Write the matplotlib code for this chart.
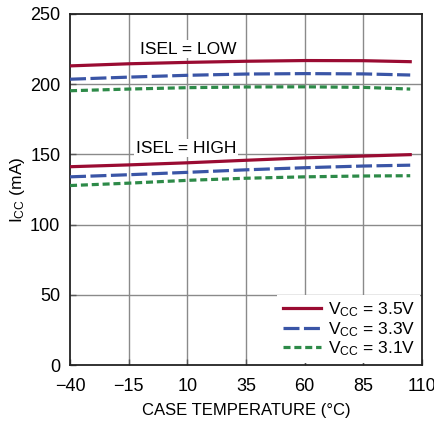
import numpy as np
import matplotlib
matplotlib.use('Agg')
from matplotlib import pyplot as plt

plt.rcParams['font.family'] = ['Liberation Sans', 'DejaVu Sans']
plt.rcParams['mathtext.fontset'] = 'custom'
plt.rcParams['mathtext.rm'] = 'Liberation Sans'
plt.rcParams['mathtext.it'] = 'Liberation Sans'

temp = [-40, -15, 10, 35, 60, 85, 105]
low_35 = [213.0, 214.5, 215.5, 216.3, 216.8, 216.7, 216.0]
low_33 = [203.5, 205.0, 206.3, 207.2, 207.5, 207.3, 206.5]
low_31 = [195.3, 196.5, 197.5, 198.0, 198.1, 197.7, 196.5]
high_35 = [141.2, 142.5, 144.0, 145.8, 147.5, 148.8, 149.8]
high_33 = [134.0, 135.5, 137.2, 139.0, 140.5, 141.7, 142.3]
high_31 = [127.8, 129.5, 131.5, 133.0, 134.0, 134.6, 134.8]

xticks = [-40, -15, 10, 35, 60, 85, 110]
xlabels = ['\u221240', '\u221215', '10', '35', '60', '85', '110']
yticks = [0, 50, 100, 150, 200, 250]

red = '#9a0b32'
blue = '#3a55a6'
green = '#2d8a48'

fig = plt.figure(figsize=(4.35, 4.22), dpi=100)
ax = fig.add_axes([0.161, 0.135, 0.809, 0.832])

for x in xticks[1:-1]:
    ax.axvline(x, color='#8a8a8a', lw=1.0, zorder=1)
for y in yticks[1:-1]:
    ax.axhline(y, color='#8a8a8a', lw=1.0, zorder=1)

lw = 2.3
ax.plot(temp, low_35, color=red, lw=lw, zorder=3, label='V$_{\\rm CC}$ = 3.5V')
ax.plot(temp, low_33, color=blue, lw=lw, dashes=(5, 1.4), zorder=3, label='V$_{\\rm CC}$ = 3.3V')
ax.plot(temp, low_31, color=green, lw=lw, dashes=(2.2, 1.2), zorder=3, label='V$_{\\rm CC}$ = 3.1V')
ax.plot(temp, high_35, color=red, lw=lw, zorder=3)
ax.plot(temp, high_33, color=blue, lw=lw, dashes=(5, 1.4), zorder=3)
ax.plot(temp, high_31, color=green, lw=lw, dashes=(2.2, 1.2), zorder=3)

box = dict(facecolor='white', edgecolor='none', pad=1)
ax.text(10.3, 225, 'ISEL = LOW', ha='center', va='center', fontsize=12.5, bbox=box, zorder=2)
ax.text(9.4, 154.5, 'ISEL = HIGH', ha='center', va='center', fontsize=12.5, bbox=box, zorder=2)

leg = ax.legend(loc='lower right', frameon=True, fontsize=12.5, handlelength=2.2,
                handletextpad=0.4, labelspacing=0.05, borderaxespad=0.1,
                fancybox=False, borderpad=0.3)
leg.get_frame().set_edgecolor('none')
leg.get_frame().set_facecolor('white')
leg.get_frame().set_alpha(1)
leg.set_zorder(2)

ax.set_xlim(-40, 110)
ax.set_ylim(0, 250)
ax.set_xticks(xticks)
ax.set_xticklabels(xlabels)
ax.set_yticks(yticks)
ax.tick_params(direction='in', length=4, width=1, color='#555555', labelsize=13, pad=7)
ax.tick_params(axis='x', pad=9)
for s in ax.spines.values():
    s.set_linewidth(1.3)
    s.set_color('#222222')

ax.set_xlabel('CASE TEMPERATURE (\u00b0C)', fontsize=12, labelpad=6)
ax.set_ylabel('I$_{\\rm CC}$ (mA)', fontsize=12.5, labelpad=2)

fig.savefig('out.png', dpi=100)
